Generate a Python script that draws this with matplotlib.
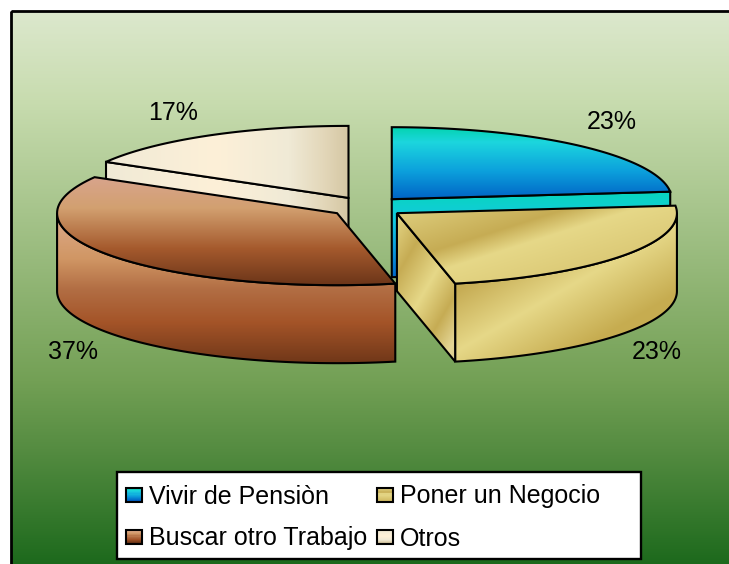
import numpy as np
import matplotlib
matplotlib.use("Agg")
import matplotlib.pyplot as plt
from matplotlib.patches import Polygon, Rectangle
from matplotlib.legend_handler import HandlerBase

plt.rcParams["font.family"] = ["Liberation Sans", "DejaVu Sans"]

# --- Data ---
labels = ["Vivir de Pensiòn", "Poner un Negocio", "Buscar otro Trabajo", "Otros"]
counts = [7, 7, 11, 5]
pct_labels = ["23%", "23%", "37%", "17%"]

# --- Geometry of the fake 3D pie, in pixels ---
W, H = 729, 564
cx, cy = 367, 207
rx, ry = 280, 72
depth = 78
explode = 37
explode_y = 0.284

# --- Colours, (position, rgb) stops ---
bg_stops = [(0, (220, 232, 205)), (0.16, (200, 220, 175)), (0.667, (115, 160, 85)),
            (0.79, (85, 140, 65)), (1, (28, 105, 28))]
blue_top = [(0, (4, 212, 176)), (0.2, (28, 214, 222)), (0.6, (12, 160, 220)), (1, (0, 96, 196))]
blue_side = [(0, (8, 214, 190)), (0.35, (20, 200, 225)), (0.7, (10, 150, 220)), (1, (0, 100, 200))]
gold_top = [(0, (225, 210, 130)), (0.34, (198, 172, 84)), (0.47, (230, 216, 136)), (0.85, (215, 195, 110)), (1, (210, 188, 100))]
gold_wall = [(0, (205, 182, 95)), (0.28, (198, 172, 84)), (0.5, (230, 216, 136)), (0.75, (198, 172, 80)), (1, (198, 172, 80))]
gold_face = [(0, (230, 216, 136)), (0.25, (198, 172, 84)), (0.5, (230, 216, 136)), (0.72, (198, 172, 84)),
             (0.9, (228, 214, 150)), (1, (215, 200, 140))]
brown_top = [(0, (216, 164, 140)), (0.28, (210, 160, 112)), (0.65, (165, 90, 45)), (1, (105, 52, 24))]
brown_wall = [(0, (222, 172, 140)), (0.3, (208, 150, 100)), (0.5, (178, 110, 68)), (0.72, (164, 84, 40)), (1, (110, 54, 24))]
otros_fill = [(0, (240, 234, 214)), (0.45, (253, 240, 216)), (0.75, (240, 234, 214)), (0.9, (226, 214, 184)), (1, (212, 198, 162))]
legend_stops = [blue_top, gold_top, brown_wall, otros_fill]


def ramp(t, stops):
    pos = [s[0] for s in stops]
    return np.stack([np.interp(t, pos, [s[1][i] / 255 for s in stops]) for i in range(3)], axis=-1)


def fill_grad(ax, pts, stops, direction=(0, 1), zorder=1):
    pts = np.asarray(pts)
    x0, y0 = np.floor(pts.min(axis=0))
    x1, y1 = np.ceil(pts.max(axis=0))
    xx, yy = np.meshgrid(np.arange(x0, x1 + 1), np.arange(y0, y1 + 1))
    t = xx * direction[0] + yy * direction[1]
    t = (t - t.min()) / (t.max() - t.min())
    im = ax.imshow(ramp(t, stops), extent=(x0, x1 + 1, y1 + 1, y0), aspect="auto",
                   zorder=zorder, interpolation="bilinear")
    edge = Polygon(pts, closed=True, fill=False, edgecolor="black", lw=1.5, zorder=zorder, joinstyle="miter")
    ax.add_patch(edge)
    im.set_clip_path(edge)


def arc(c, a0, a1):
    a = np.radians(np.linspace(a0, a1, 80))
    return np.column_stack([c[0] + rx * np.sin(a), c[1] - ry * np.cos(a)])


def radial_face(c, a):
    e = arc(c, a, a)[0]
    return [c, e, (e[0], e[1] + depth), (c[0], c[1] + depth)]


def wall(c, a0, a1):
    top = arc(c, a0, a1)
    return np.vstack([top, top[::-1] + (0, depth)])


class GradHandler(HandlerBase):
    def __init__(self, stops):
        super().__init__()
        self.stops = stops

    def create_artists(self, legend, orig, xd, yd, width, height, fontsize, trans):
        parts = []
        n = 12
        for i in range(n):
            col = ramp(np.array((n - 1 - i) / (n - 1)), self.stops)
            parts.append(Rectangle((-xd, -yd + height * i / n), width, height / n + 0.3,
                                   facecolor=col, edgecolor="none", transform=trans))
        parts.append(Rectangle((-xd, -yd), width, height, fill=False, edgecolor="black", lw=1.5, transform=trans))
        return parts


# --- Slice angles ---
fracs = np.array(counts) / sum(counts)
ends = np.cumsum(fracs) * 360
starts = ends - fracs * 360
mids = (starts + ends) / 2
centers = [(cx + explode * np.sin(np.radians(m)), cy - explode * explode_y * np.cos(np.radians(m))) for m in mids]
c_blue, c_gold, c_brown, c_otros = centers

fig = plt.figure(figsize=(W / 100, H / 100), dpi=100)
ax = fig.add_axes([0, 0, 1, 1])

# --- Panel, cropped on the right and at the bottom ---
yy = np.linspace(0, 1, 300)[:, None]
ax.imshow(ramp(yy, bg_stops), extent=(11, W + 2, H + 2, 11), aspect="auto", zorder=0)
ax.add_patch(Rectangle((11, 11), W, H, fill=False, edgecolor="black", lw=2, zorder=0.5))

# --- Otros ---
fill_grad(ax, radial_face(c_otros, starts[3]), otros_fill, (1, 0), zorder=1)
fill_grad(ax, np.vstack([[c_otros], arc(c_otros, starts[3], ends[3])]), otros_fill, (1, 0), zorder=2)

# --- Vivir de Pension ---
fill_grad(ax, radial_face(c_blue, ends[0]), blue_side, (0, 1), zorder=3)
fill_grad(ax, np.vstack([[c_blue], arc(c_blue, starts[0], ends[0])]), blue_top, (0, 1), zorder=4)

# --- Buscar otro Trabajo ---
fill_grad(ax, wall(c_brown, starts[2], 270), brown_wall, (0, 1), zorder=5)
fill_grad(ax, np.vstack([[c_brown], arc(c_brown, starts[2], ends[2])]), brown_top, (0, 1), zorder=6)

# --- Poner un Negocio ---
fill_grad(ax, wall(c_gold, 90, ends[1]), gold_wall, (0.5, 0.87), zorder=7)
fill_grad(ax, radial_face(c_gold, ends[1]), gold_face, (0.85, 0.5), zorder=8)
fill_grad(ax, np.vstack([[c_gold], arc(c_gold, starts[1], ends[1])]), gold_top, (0.3, 0.95), zorder=9)

# --- Percentages ---
for txt, xt, yt in zip(pct_labels, (612, 657, 73, 173), (122, 352, 352, 113)):
    ax.text(xt, yt, txt, fontsize=18, ha="center", va="center", color="black", zorder=10)

# --- Legend: box drawn apart, it is wider than the entries ---
ax.add_patch(Rectangle((117, 472), 524, 87, facecolor="white", edgecolor="black", lw=1.7, zorder=10.5))
handles = [Rectangle((0, 0), 1, 1, label=l) for l in labels]
order = [0, 2, 1, 3]
leg = ax.legend([handles[i] for i in order], [labels[i] for i in order], ncols=2,
                handler_map={handles[i]: GradHandler(legend_stops[i]) for i in range(4)},
                loc="upper left", bbox_to_anchor=(126 / W, 1 - 484.5 / H), borderaxespad=0,
                fontsize=18, frameon=False, handlelength=0.64, handleheight=0.48,
                handletextpad=0.28, columnspacing=0.4, labelspacing=0.72, borderpad=0)
leg.set_zorder(11)

ax.set_xlim(0, W)
ax.set_ylim(H, 0)
ax.axis("off")
fig.savefig("out.png", dpi=100, facecolor="white")
